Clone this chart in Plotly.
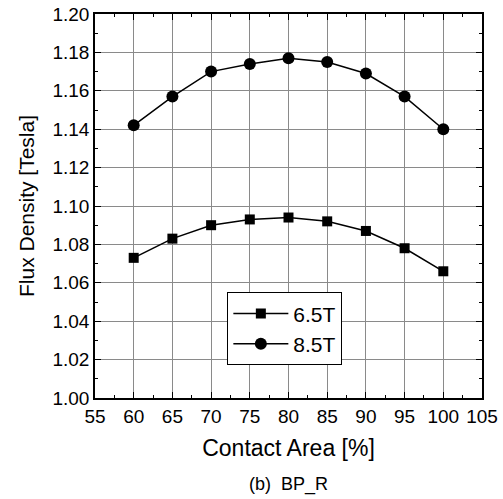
import plotly.graph_objects as go

contact_area = [60, 65, 70, 75, 80, 85, 90, 95, 100]
flux_65T = [1.073, 1.083, 1.090, 1.093, 1.094, 1.092, 1.087, 1.078, 1.066]
flux_85T = [1.142, 1.157, 1.170, 1.174, 1.177, 1.175, 1.169, 1.157, 1.140]
x_ticks = [55, 60, 65, 70, 75, 80, 85, 90, 95, 100, 105]
y_ticks = [1.00, 1.02, 1.04, 1.06, 1.08, 1.10, 1.12, 1.14, 1.16, 1.18, 1.20]

fig = go.Figure()
fig.add_trace(go.Scatter(x=contact_area, y=flux_65T, mode="lines+markers", name="6.5T",
                         line=dict(color="black", width=1.5),
                         marker=dict(symbol="square", size=10, color="black")))
fig.add_trace(go.Scatter(x=contact_area, y=flux_85T, mode="lines+markers", name="8.5T",
                         line=dict(color="black", width=1.5),
                         marker=dict(symbol="circle", size=12, color="black")))

font = "Liberation Sans, Arial, sans-serif"
fig.update_layout(
    width=503, height=499,
    margin=dict(l=95, r=21, t=14, b=101, autoexpand=False),
    paper_bgcolor="white", plot_bgcolor="white",
    font=dict(family=font, color="black"),
    showlegend=True,
    legend=dict(x=0.342, y=0.275, xanchor="left", yanchor="top",
                bordercolor="black", borderwidth=1, bgcolor="white",
                font=dict(size=21, family=font), tracegroupgap=0, itemwidth=55),
    annotations=[dict(text="(b)  BP_R", x=0.5, y=-0.224, xref="paper", yref="paper",
                      showarrow=False, font=dict(size=18, family=font), yanchor="middle")],
)
fig.update_xaxes(range=[55, 105], tickvals=x_ticks, ticktext=[str(v) for v in x_ticks],
                 showgrid=True, gridcolor="#8a8a8a", gridwidth=1, automargin=False,
                 showline=True, linecolor="black", linewidth=1.5, mirror="allticks",
                 ticks="inside", ticklen=6, tickcolor="black",
                 minor=dict(ticks="inside", dtick=2.5, ticklen=3, tickcolor="black", showgrid=False),
                 tickfont=dict(size=19), zeroline=False,
                 title=dict(text="Contact Area [%]", font=dict(size=23), standoff=14))
fig.update_yaxes(range=[1.00, 1.20], tickvals=y_ticks, ticktext=["%.2f" % v for v in y_ticks],
                 showgrid=True, gridcolor="#8a8a8a", gridwidth=1, automargin=False,
                 showline=True, linecolor="black", linewidth=1.5, mirror="allticks",
                 ticks="inside", ticklen=6, tickcolor="black",
                 minor=dict(ticks="inside", dtick=0.01, ticklen=3, tickcolor="black", showgrid=False),
                 tickfont=dict(size=19), zeroline=False,
                 title=dict(text="Flux Density [Tesla]", font=dict(size=21), standoff=12))

fig.write_html("out.html")
